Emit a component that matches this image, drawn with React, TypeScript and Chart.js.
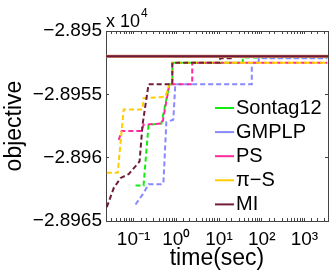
import React, { useEffect, useRef } from 'react';
import { Chart, registerables } from 'chart.js';

Chart.register(...registerables);

const FONT = '"Liberation Sans", Arial, Helvetica, sans-serif';

// legend / series
const seriesNames = ['Sontag12', 'GMPLP', 'PS', 'π−S', 'MI'];
const seriesColors = ['#12ee12', '#8888ff', '#ff2a9d', '#ffcc00', '#701c3c'];

// time (sec) and objective values for each method
const sontagTime = [0.111, 0.171, 0.224, 0.448, 0.69, 0.807, 0.807, 36.1, 36.1, 3430];
const sontagValue = [-28962.2, -28962.2, -28957.4, -28957.3, -28954.2, -28954.2, -28952.5, -28952.5, -28952.1, -28952.1];

const gmplpTime = [0.111, 0.171, 0.224, 0.448, 0.499, 0.585, 0.851, 0.948, 58.5, 58.5, 85.1, 85.1, 3430];
const gmplpValue = [-28963.7, -28962.8, -28962.1, -28962.1, -28962.0, -28957.2, -28957.0, -28954.2, -28954.2, -28952.5, -28952.5, -28952.15, -28952.15];

const psTime = [0.0448, 0.0526, 0.153, 0.171, 0.472, 0.69, 2.36, 2.36, 3430];
const psValue = [-28958.6, -28957.9, -28957.9, -28957.4, -28957.3, -28954.2, -28954.2, -28952.5, -28952.5];

const piSTime = [0.0236, 0.0425, 0.0585, 0.162, 0.171, 0.555, 0.69, 0.8, 0.807, 3430];
const piSValue = [-28961.2, -28961.2, -28956.2, -28956.2, -28955.3, -28955.2, -28954.2, -28954.2, -28952.5, -28952.5];

const miTime = [0.0236, 0.0343, 0.0499, 0.0766, 0.138, 0.162, 0.224, 0.807, 0.807, 10.6, 10.6, 21.2, 21.2, 3430];
const miValue = [-28963.9, -28962.4, -28961.6, -28961.3, -28960.3, -28957.4, -28954.2, -28954.2, -28952.5, -28952.5, -28952.15, -28952.15, -28952.0, -28952.0];

// solid bound line at the top
const boundTime = [0.02, 4000];
const boundValue = [-28952.0, -28952.0];

// axes
const xMin = 0.0226;
const xMax = 3560;
const yMin = -28965;
const yMax = -28950;
const yStep = 5;
const yTickValues = [-28965, -28960, -28955, -28950];
const yTickLabels = ['−2.8965', '−2.896', '−2.8955', '−2.895'];
const xTickExponents = [-1, 0, 1, 2, 3];
const xTickLabels = ['10⁻¹', '10⁰', '10¹', '10²', '10³'];
const xLabel = 'time(sec)';
const yLabel = 'objective';

const toPoints = (t: number[], v: number[]) => t.map((x, i) => ({ x, y: v[i] }));

const decadeIndex = (value: number) => {
  const e = Math.log10(value);
  const r = Math.round(e);
  if (Math.abs(e - r) > 1e-6) return -1;
  return xTickExponents.indexOf(r);
};

const innerLegend = {
  id: 'innerLegend',
  afterDraw(chart: any) {
    const { ctx, chartArea } = chart;
    ctx.save();
    ctx.font = `20px ${FONT}`;
    ctx.textBaseline = 'middle';
    ctx.textAlign = 'left';
    const x0 = chartArea.right - 113;
    seriesNames.forEach((name, i) => {
      const y = chartArea.bottom - 113 + i * 24.1;
      ctx.setLineDash([]);
      ctx.strokeStyle = seriesColors[i];
      ctx.lineWidth = 2;
      ctx.beginPath();
      ctx.moveTo(x0, y);
      ctx.lineTo(x0 + 19, y);
      ctx.stroke();
      ctx.fillStyle = '#000';
      ctx.fillText(name, x0 + 21, y + 0.5);
    });
    ctx.restore();
  },
};

const scaleFactor = {
  id: 'scaleFactor',
  afterDraw(chart: any) {
    const { ctx, chartArea } = chart;
    ctx.save();
    ctx.fillStyle = '#000';
    ctx.textBaseline = 'alphabetic';
    ctx.textAlign = 'left';
    ctx.font = `18px ${FONT}`;
    ctx.fillText('x 10', chartArea.left, 27);
    const w = ctx.measureText('x 10').width;
    ctx.font = `12px ${FONT}`;
    ctx.fillText('4', chartArea.left + w + 1, 17);
    ctx.restore();
  },
};

const dashed = (label: string, color: string, t: number[], v: number[], order: number) => ({
  label,
  data: toPoints(t, v),
  borderColor: color,
  backgroundColor: color,
  borderWidth: 2,
  borderDash: [5, 3],
  pointRadius: 0,
  tension: 0,
  fill: false,
  order,
});

const tickColor = '#444';

const fitTo = (w: number | null, h: number | null) => (s: any) => {
  if (w !== null) s.width = w;
  if (h !== null) s.height = h;
  s.paddingLeft = 0;
  s.paddingRight = 0;
  s.paddingTop = 0;
  s.paddingBottom = 0;
};

export default function App() {
  const ref = useRef<HTMLCanvasElement | null>(null);
  useEffect(() => {
    if (!ref.current) return;
    const chart = new Chart(ref.current, {
      type: 'line',
      data: {
        datasets: [
          {
            label: 'bound',
            data: toPoints(boundTime, boundValue),
            borderColor: '#6e1a3a',
            borderWidth: 2,
            pointRadius: 0,
            fill: false,
            order: 0,
          },
          {
            label: 'bound2',
            data: toPoints(boundTime, boundValue),
            borderColor: '#d08a60',
            borderWidth: 3.4,
            pointRadius: 0,
            fill: false,
            order: 1,
          },
          dashed(seriesNames[4], seriesColors[4], miTime, miValue, 2),
          dashed(seriesNames[3], seriesColors[3], piSTime, piSValue, 3),
          dashed(seriesNames[2], seriesColors[2], psTime, psValue, 4),
          dashed(seriesNames[1], seriesColors[1], gmplpTime, gmplpValue, 5),
          dashed(seriesNames[0], seriesColors[0], sontagTime, sontagValue, 6),
        ] as any,
      },
      options: {
        responsive: false,
        animation: false,
        events: [],
        layout: { padding: { top: 31, right: 4, left: 0, bottom: 0 } },
        plugins: { legend: { display: false }, tooltip: { enabled: false } },
        scales: {
          x: {
            type: 'logarithmic',
            position: 'bottom',
            min: xMin,
            max: xMax,
            afterFit: fitTo(null, 54),
            border: { display: true, color: '#444', width: 1 },
            grid: { drawOnChartArea: false, drawTicks: true, tickLength: -3, tickColor },
            ticks: {
              autoSkip: false,
              maxRotation: 0,
              minRotation: 0,
              padding: 10,
              color: '#000',
              font: { family: FONT, size: 19 },
              callback: (value: any) => {
                const i = decadeIndex(Number(value));
                return i >= 0 ? xTickLabels[i] : '';
              },
            },
            title: {
              display: true,
              text: xLabel,
              color: '#000',
              font: { family: FONT, size: 23 },
              padding: { top: 0, bottom: 3 },
            },
          },
          x2: {
            type: 'logarithmic',
            position: 'top',
            min: xMin,
            max: xMax,
            afterFit: fitTo(null, 0),
            border: { display: true, color: '#444', width: 1 },
            grid: { drawOnChartArea: false, drawTicks: true, tickLength: -3, tickColor },
            ticks: { display: false, autoSkip: false },
          },
          y: {
            type: 'linear',
            position: 'left',
            min: yMin,
            max: yMax,
            afterFit: fitTo(106, null),
            border: { display: true, color: '#444', width: 1 },
            grid: { drawOnChartArea: false, drawTicks: true, tickLength: -3, tickColor },
            ticks: {
              stepSize: yStep,
              padding: 7,
              color: '#000',
              font: { family: FONT, size: 19 },
              callback: (value: any) => {
                const i = yTickValues.findIndex((v) => Math.abs(v - Number(value)) < 1e-6);
                return i >= 0 ? yTickLabels[i] : '';
              },
            },
            title: {
              display: true,
              text: yLabel,
              color: '#000',
              font: { family: FONT, size: 23 },
              padding: { top: 1, bottom: 0 },
            },
          },
          y2: {
            type: 'linear',
            position: 'right',
            min: yMin,
            max: yMax,
            afterFit: fitTo(0, null),
            border: { display: true, color: '#444', width: 1 },
            grid: { drawOnChartArea: false, drawTicks: true, tickLength: -3, tickColor },
            ticks: { display: false, stepSize: yStep },
          },
        },
      } as any,
      plugins: [innerLegend, scaleFactor],
    });
    return () => chart.destroy();
  }, []);
  return (
    <div style={{ position: 'fixed', left: 0, top: 0, width: 332, height: 275, background: '#fff' }}>
      <canvas ref={ref} width={332} height={275} style={{ display: 'block', width: 332, height: 275 }} />
    </div>
  );
}
